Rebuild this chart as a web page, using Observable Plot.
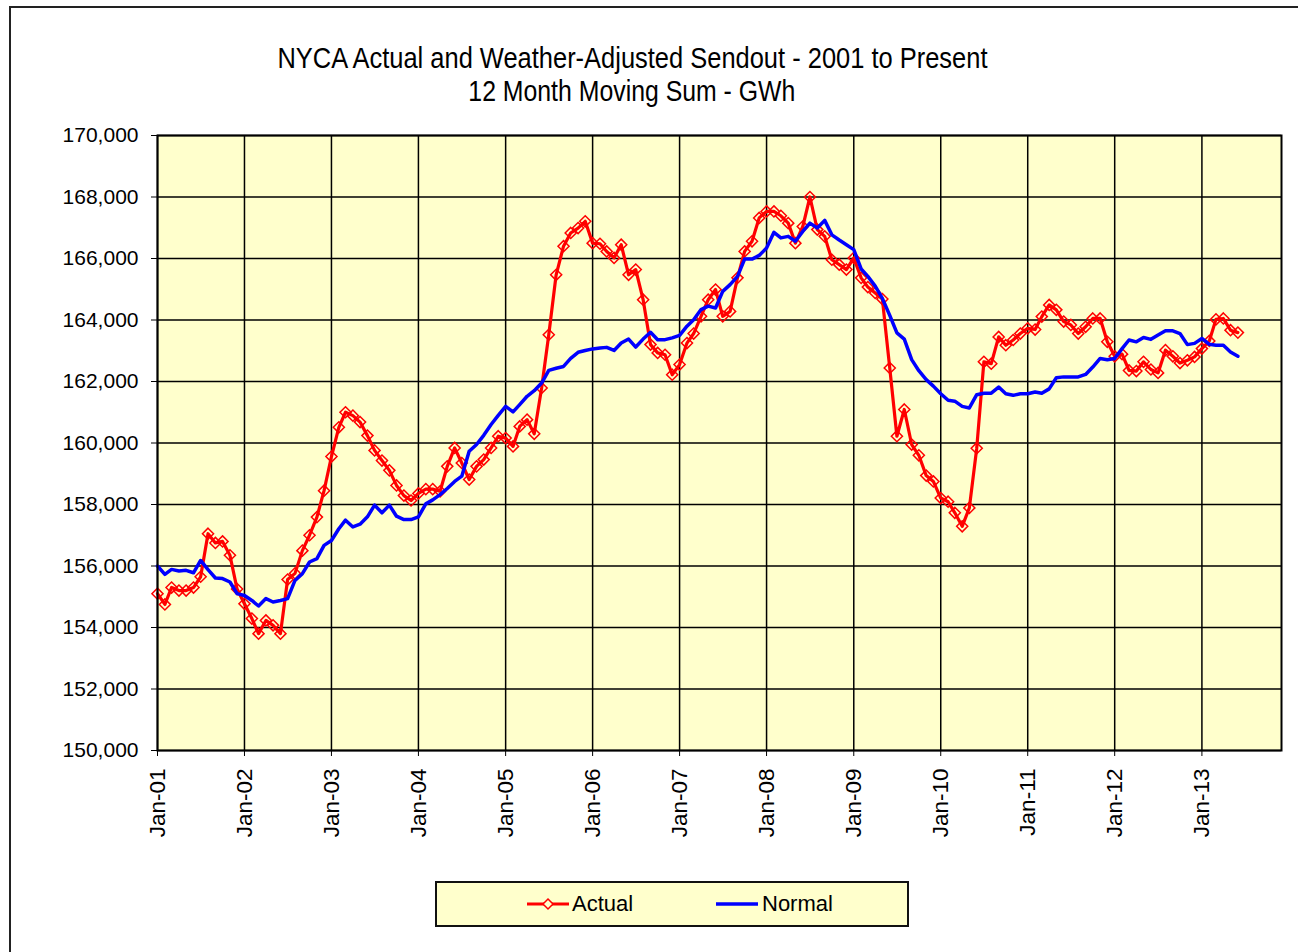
<!DOCTYPE html>
<html><head><meta charset="utf-8">
<script src="https://cdn.jsdelivr.net/npm/d3@7"></script>
<script src="https://cdn.jsdelivr.net/npm/@observablehq/plot@0.6"></script>
<style>
body{margin:0;background:#fff;font-family:"Liberation Sans",Arial,sans-serif;color:#000;}
#wrap{position:relative;width:1298px;height:952px;overflow:hidden;background:#fff;}
#border{position:absolute;left:9px;top:6px;width:1400px;height:1100px;border-left:2px solid #222;border-top:2px solid #222;}
.title{position:absolute;left:0;width:1264px;text-align:center;font-size:27px;line-height:27px;white-space:nowrap;}
.title span{display:inline-block;transform-origin:center;}
#chart{position:absolute;left:0;top:0;}
#chart g[aria-label="x-axis tick label"]{font-size:22.5px;}
#legend{position:absolute;left:435px;top:881px;width:470px;height:42px;background:#FFFFCC;border:2px solid #111;box-sizing:content-box;}
#legend .item{position:absolute;top:0;height:42px;display:flex;align-items:center;font-size:22px;}
</style>
</head><body>
<div id="wrap">
  <div id="border"></div>
  <div class="title" id="t1" style="top:45px"><span>NYCA Actual and Weather-Adjusted Sendout - 2001 to Present</span></div>
  <div class="title" id="t2" style="top:78px"><span>12 Month Moving Sum - GWh</span></div>
  <div id="chart"></div>
  <div id="legend">
    <div class="item" style="left:89px">
      <svg width="44" height="20"><line x1="1" y1="10" x2="43" y2="10" stroke="#FF0000" stroke-width="3"/><path d="M22,5L27,10L22,15L17,10Z" fill="#FFFFCC" stroke="#FF0000" stroke-width="1.5"/></svg>
      <span style="margin-left:2px">Actual</span>
    </div>
    <div class="item" style="left:278px">
      <svg width="44" height="20"><line x1="1" y1="10" x2="43" y2="10" stroke="#0000FF" stroke-width="3.5"/></svg>
      <span style="margin-left:3px">Normal</span>
    </div>
  </div>
</div>
<script>
// First month of the series and monthly values (GWh, 12-month moving sum)
const startYear = 2001;
const actualValues = [
155100,154750,155300,155200,155200,155300,155650,157050,156750,156800,156350,155250,
154770,154290,153800,154230,154070,153800,155560,155760,156500,157000,157590,158450,
159560,160510,161000,160890,160680,160240,159760,159430,159110,158620,158290,158130,
158360,158500,158500,158430,159240,159840,159350,158810,159240,159460,159840,160220,
160160,159890,160540,160760,160300,161790,163520,165470,166400,166830,166990,167210,
166500,166480,166230,166020,166450,165470,165640,164660,163200,162930,162870,162220,
162550,163250,163560,164120,164660,164990,164120,164280,165370,166230,166560,167320,
167530,167530,167390,167150,166500,167040,168000,166940,166720,165960,165800,165640,
166020,165370,165070,164880,164680,162440,160220,161090,159950,159600,158940,158750,
158210,158090,157730,157290,157890,159830,162640,162580,163450,163180,163350,163560,
163730,163690,164110,164490,164330,163950,163840,163560,163780,164050,164050,163290,
162820,162890,162360,162340,162640,162390,162280,163020,162820,162600,162690,162800,
163070,163320,164020,164050,163670,163590
];
const normalValues = [
156000,155730,155890,155840,155860,155780,156180,155880,155610,155590,155480,155100,
155040,154880,154700,154940,154830,154880,154940,155530,155750,156130,156240,156670,
156830,157210,157490,157270,157360,157600,157980,157730,157980,157620,157510,157510,
157600,158020,158150,158320,158520,158750,158920,159730,159950,160250,160600,160900,
161190,161010,161250,161520,161700,161950,162360,162430,162490,162750,162950,163010,
163060,163090,163110,163010,163250,163380,163120,163380,163600,163360,163360,163420,
163500,163800,164010,164340,164450,164390,164930,165150,165420,165980,165980,166100,
166340,166850,166670,166720,166560,166880,167150,166990,167240,166770,166600,166450,
166290,165660,165420,165100,164700,164150,163580,163380,162710,162350,162060,161850,
161600,161390,161360,161190,161140,161570,161620,161620,161820,161600,161550,161600,
161600,161660,161620,161760,162120,162150,162150,162150,162230,162470,162750,162710,
162750,163070,163350,163290,163430,163370,163510,163650,163650,163560,163200,163240,
163400,163210,163180,163180,162960,162820
];
const yTickValues = [150000,152000,154000,156000,158000,160000,162000,164000,166000,168000,170000];
const xTickYears = [2001,2002,2003,2004,2005,2006,2007,2008,2009,2010,2011,2012,2013];

const months = actualValues.map((_, i) => new Date(Date.UTC(startYear, i, 1)));
const rows = months.map((d, i) => ({date: d, actual: actualValues[i], normal: normalValues[i]}));
const xTicks = xTickYears.map(y => new Date(Date.UTC(y, 0, 1)));
const fmt = d3.utcFormat("%b-%y");

const chart = Plot.plot({
  width: 1298,
  height: 860,
  marginLeft: 157,
  marginRight: 17,
  marginTop: 135,
  marginBottom: 110,
  style: {fontFamily: '"Liberation Sans", Arial, sans-serif', fontSize: "21px", color: "#000", background: "transparent", overflow: "visible"},
  x: {type: "utc", domain: [new Date(Date.UTC(2001,0,1)), new Date(Date.UTC(2013,11,1))], ticks: xTicks, tickFormat: fmt, tickRotate: -90, tickSize: 6, tickPadding: 12, label: null},
  y: {domain: [150000, 170000], ticks: yTickValues, tickFormat: d3.format(","), tickSize: 6, tickPadding: 13, label: null},
  marks: [
    Plot.frame({fill: "#FFFFCC", stroke: null}),
    Plot.ruleX(xTicks, {stroke: "#000", strokeWidth: 1.5}),
    Plot.ruleY(yTickValues, {stroke: "#000", strokeWidth: 1.5}),
    Plot.line(rows, {x: "date", y: "actual", stroke: "#FF0000", strokeWidth: 3.2}),
    Plot.dot(rows, {x: "date", y: "actual", symbol: "diamond2", r: 5, stroke: "#FF0000", strokeWidth: 1.5, fill: "none"}),
    Plot.line(rows, {x: "date", y: "normal", stroke: "#0000FF", strokeWidth: 3.5}),
    Plot.frame({stroke: "#000", strokeWidth: 2})
  ]
});
document.getElementById("chart").appendChild(chart);

// fit title widths to the reference's condensed look
function fit(id, target) {
  const s = document.querySelector("#" + id + " span");
  const w = s.getBoundingClientRect().width;
  s.style.transform = "scale(" + (target / w) + ",1.06)";
}
fit("t1", 710);
fit("t2", 327);
</script>
</body></html>
